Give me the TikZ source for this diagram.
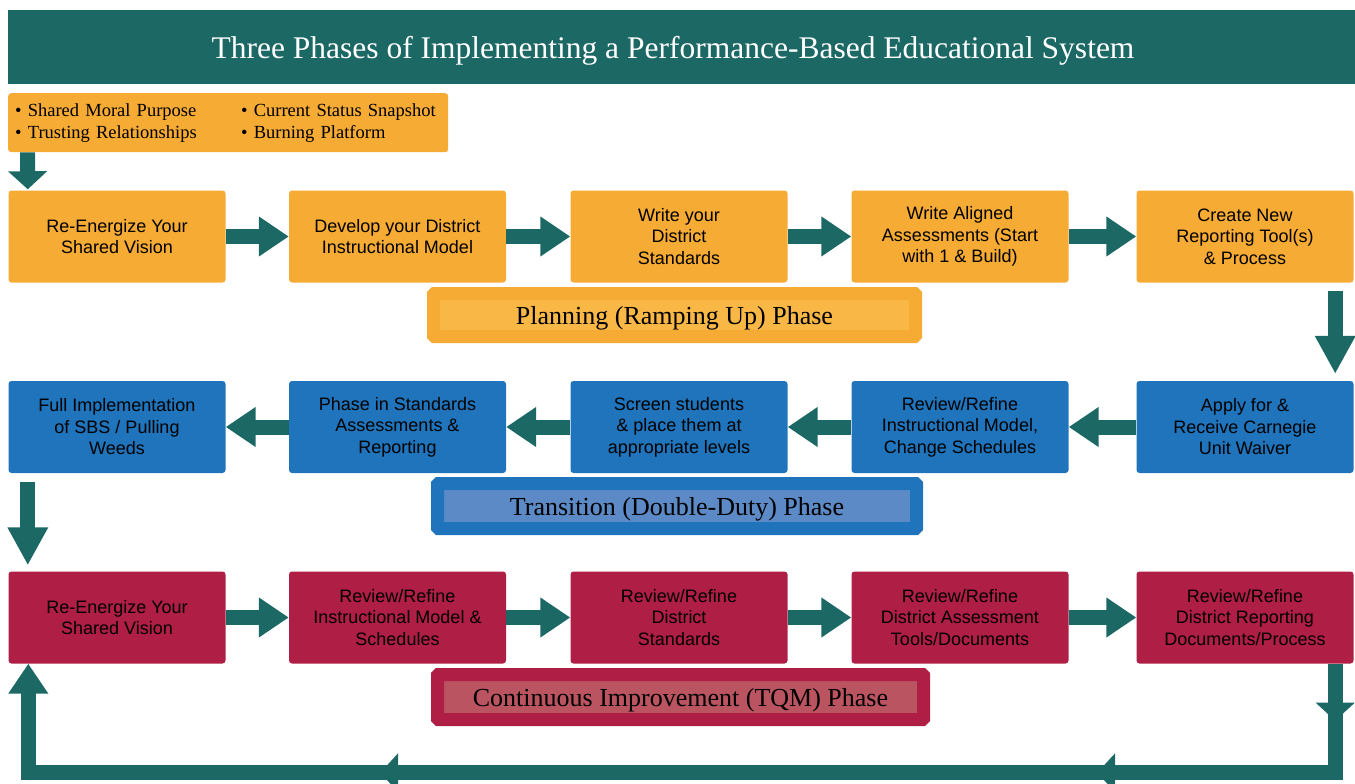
\documentclass[tikz,border=0pt]{standalone}
\usepackage{fontspec}
\setmainfont{Liberation Serif}
\newfontfamily\boxfont{Liberation Sans}
\usetikzlibrary{arrows.meta,decorations.markings}

\definecolor{flowteal}{HTML}{1B6864}
\definecolor{planorange}{HTML}{F6AB35}
\definecolor{planlight}{HTML}{F9B846}
\definecolor{transblue}{HTML}{1F74BB}
\definecolor{translight}{HTML}{5B8AC6}
\definecolor{improvered}{HTML}{AE1E45}
\definecolor{improvelight}{HTML}{BB5461}

\tikzset{
  stepnode/.style={rounded corners=3pt, minimum width=217pt, minimum height=92pt, inner sep=0pt, align=center, font=\boxfont\fontsize{18}{21.5}\selectfont},
  planbox/.style={stepnode, fill=planorange},
  transbox/.style={stepnode, fill=transblue},
  improvebox/.style={stepnode, fill=improvered},
  phaselabel/.style={line width=13pt, rounded corners=1pt, inner sep=0pt, text depth=0pt, font=\fontsize{26}{30}\selectfont},
  flow/.style={draw=flowteal, line width=15pt, -{Triangle[width=38pt,length=30pt]}},
  longflow/.style={draw=flowteal, line width=15pt, -{Triangle[width=38pt,length=38pt]}},
  shortflow/.style={draw=flowteal, line width=15pt, -{Triangle[width=38pt,length=18pt]}},
  loopflow/.style={flow, postaction={decorate}, decoration={markings,
      mark=at position 57pt with {\arrow{Triangle[width=38pt,length=18pt]}},
      mark=at position 347pt with {\arrow{Triangle[width=38pt,length=18pt]}},
      mark=at position 1064pt with {\arrow{Triangle[width=38pt,length=18pt]}}}}
}

\begin{document}
\begin{tikzpicture}[x=1pt,y=1pt]
		\useasboundingbox (0,0) rectangle (1355,-784);

		\node[fill=flowteal, text=white, minimum width=1347pt, minimum height=74pt, inner sep=0pt, text depth=0pt, font=\fontsize{31.5}{34}\selectfont] (title) at (681.5,-47) {\hspace{-17pt}Three Phases of Implementing a Performance-Based Educational System};

		\node[fill=planorange, rounded corners=3pt, anchor=north west, minimum height=59pt, text width=426pt, inner xsep=7pt, inner ysep=0pt, align=left, font=\fontsize{18.5}{22}\selectfont] (prep) at (8,-93) {%
			\begin{tabular}{@{}p{226pt}@{}l@{}}
				\textbullet\ Shared Moral Purpose & \textbullet\ Current Status Snapshot\\
				\textbullet\ Trusting Relationships & \textbullet\ Burning Platform
			\end{tabular}};

		% planning row
		\node[planbox] (p1) at (117,-236.5) {Re-Energize Your\\Shared Vision};
		\node[planbox] (p2) at (397.5,-236.5) {Develop your District\\Instructional Model};
		\node[planbox] (p3) at (679,-236.5) {Write your\\District\\Standards};
		\node[planbox] (p4) at (960,-236.5) {Write Aligned\\Assessments (Start\\with 1 \& Build)};
		\node[planbox] (p5) at (1245,-236.5) {Create New\\Reporting Tool(s)\\\& Process};

		\node[phaselabel, draw=planorange, fill=planlight, minimum width=482pt, minimum height=43pt] (plan) at (674.5,-315) {Planning (Ramping Up) Phase};

		% transition row
		\node[transbox] (t1) at (117,-427) {Full Implementation\\of SBS / Pulling\\Weeds};
		\node[transbox] (t2) at (397.5,-427) {Phase in Standards\\Assessments \&\\Reporting};
		\node[transbox] (t3) at (679,-427) {Screen students\\\& place them at\\appropriate levels};
		\node[transbox] (t4) at (960,-427) {Review/Refine\\Instructional Model,\\Change Schedules};
		\node[transbox] (t5) at (1245,-427) {Apply for \&\\Receive Carnegie\\Unit Waiver};

		\node[phaselabel, draw=transblue, fill=translight, minimum width=479pt, minimum height=45pt] (trans) at (677,-506) {Transition (Double-Duty) Phase};

		% continuous improvement row
		\node[improvebox] (c1) at (117,-617.5) {Re-Energize Your\\Shared Vision};
		\node[improvebox] (c2) at (397.5,-617.5) {Review/Refine\\Instructional Model \&\\Schedules};
		\node[improvebox] (c3) at (679,-617.5) {Review/Refine\\District\\Standards};
		\node[improvebox] (c4) at (960,-617.5) {Review/Refine\\District Assessment\\Tools/Documents};
		\node[improvebox] (c5) at (1245,-617.5) {Review/Refine\\District Reporting\\Documents/Process};

		\node[phaselabel, draw=improvered, fill=improvelight, minimum width=486pt, minimum height=45pt] (tqm) at (680.5,-697) {Continuous Improvement (TQM) Phase};

		\draw[shortflow, shorten >=1pt] ([xshift=19.5pt]prep.south west) -- ([xshift=19.5pt]p1.north west);

		\draw[flow] (p1.east) -- (p2.west);
		\draw[flow] (p2.east) -- (p3.west);
		\draw[flow] (p3.east) -- (p4.west);
		\draw[flow] (p4.east) -- (p5.west);

		\draw[longflow, shorten <=8pt, shorten >=7pt] ([xshift=-18.5pt]p5.south east) -- ([xshift=-18.5pt]t5.north east);

		\draw[flow] (t5.west) -- (t4.east);
		\draw[flow] (t4.west) -- (t3.east);
		\draw[flow] (t3.west) -- (t2.east);
		\draw[flow] (t2.west) -- (t1.east);

		\draw[longflow, shorten <=9pt, shorten >=6pt] ([xshift=19.5pt]t1.south west) -- ([xshift=19.5pt]c1.north west);

		\draw[flow] (c1.east) -- (c2.west);
		\draw[flow] (c2.east) -- (c3.west);
		\draw[flow] (c3.east) -- (c4.west);
		\draw[flow] (c4.east) -- (c5.west);

		% back to the start
		\coordinate (loopright) at ([yshift=-109pt,xshift=-18.5pt]c5.south east);
		\coordinate (loopleft) at ([yshift=-109pt,xshift=20pt]c1.south west);
		\draw[loopflow] ([xshift=-18.5pt]c5.south east) -- (loopright) -- (loopleft) -- ([xshift=20pt]c1.south west);
	\end{tikzpicture}
\end{document}
